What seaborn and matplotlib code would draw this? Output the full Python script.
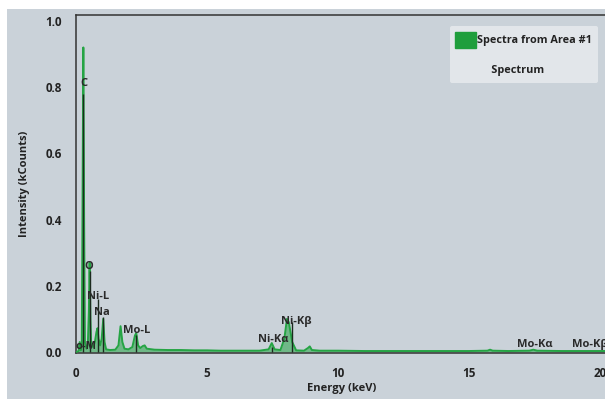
import numpy as np
import pandas as pd
import matplotlib
matplotlib.use("Agg")
import matplotlib.pyplot as plt
from matplotlib.patches import Patch, Rectangle
from matplotlib.lines import Line2D
import seaborn as sns

# ---- spectrum (keV, kCounts) ----
energy_kev = [
    0.00, 0.10, 0.14, 0.18, 0.22, 0.25, 0.28, 0.31, 0.34, 0.40,
    0.45, 0.49, 0.52, 0.55, 0.58, 0.65, 0.72, 0.78, 0.82, 0.86,
    0.92, 0.98, 1.04, 1.09, 1.15, 1.30, 1.50, 1.62, 1.70, 1.77,
    1.85, 2.00, 2.15, 2.25, 2.30, 2.37, 2.45, 2.55, 2.62, 2.70,
    3.00, 3.50, 4.00, 4.50, 5.00, 5.50, 6.00, 6.50, 7.00, 7.35,
    7.47, 7.58, 7.80, 7.95, 8.05, 8.12, 8.25, 8.40, 8.70, 8.85,
    8.92, 9.00, 9.30, 10.0, 11.0, 12.0, 13.0, 14.0, 15.0, 15.7,
    15.8, 15.9, 16.5, 17.3, 17.45, 17.6, 18.5, 19.5, 20.3,
]
intensity_kc = [
    0.000, 0.003, 0.030, 0.005, 0.020, 0.450, 0.920, 0.400, 0.030, 0.010,
    0.020, 0.120, 0.270, 0.100, 0.020, 0.015, 0.030, 0.060, 0.072, 0.040,
    0.020, 0.040, 0.100, 0.030, 0.008, 0.006, 0.007, 0.020, 0.078, 0.030,
    0.010, 0.008, 0.015, 0.050, 0.057, 0.020, 0.012, 0.018, 0.020, 0.010,
    0.007, 0.006, 0.006, 0.005, 0.005, 0.004, 0.004, 0.004, 0.004, 0.008,
    0.027, 0.008, 0.006, 0.040, 0.100, 0.090, 0.030, 0.005, 0.004, 0.012,
    0.017, 0.006, 0.004, 0.004, 0.003, 0.003, 0.003, 0.003, 0.003, 0.004,
    0.007, 0.004, 0.003, 0.004, 0.007, 0.004, 0.003, 0.003, 0.003,
]

# ---- element markers: name, line energy, marker height, label position ----
element_names = ["C", "O", "Ni-L", "Na", "Mo-L", "o-M", "Ni-K\u03b1", "Ni-K\u03b2", "Mo-K\u03b1", "Mo-K\u03b2"]
element_kev = [0.28, 0.52, 0.85, 1.04, 2.29, 0.19, 7.47, 8.26, 17.48, 19.60]
marker_top = [0.78, 0.245, 0.16, 0.105, 0.05, 0.0, 0.015, 0.09, 0.0, 0.0]
label_x = [0.30, 0.50, 0.84, 1.00, 2.33, 0.38, 7.52, 8.40, 17.52, 19.62]
label_y = [0.81, 0.257, 0.169, 0.118, 0.066, 0.018, 0.039, 0.091, 0.024, 0.024]

x_ticks = [0, 5, 10, 15, 20]
y_ticks = [0.0, 0.2, 0.4, 0.6, 0.8, 1.0]

spec = pd.DataFrame({"Energy (keV)": energy_kev, "Intensity (kCounts)": intensity_kc})

sns.set_theme(style="white")
plt.rcParams["font.family"] = ["Open Sans", "DejaVu Sans"]
plt.rcParams["font.weight"] = "bold"
plt.rcParams["axes.labelweight"] = "bold"

BG = "#cad2d9"
GREEN = "#25a444"
INK = "#222222"

W, H = 605, 399
fig = plt.figure(figsize=(W / 100, H / 100), dpi=100, facecolor="white")
# grey panel (white strip at top and left edge)
fig.patches.append(Rectangle((7 / W, 0), 1, 1 - 9 / H, transform=fig.transFigure,
                             facecolor=BG, edgecolor="none", zorder=-10))

ax = fig.add_axes([76 / W, (H - 353) / H, 532 / W, 338 / H])
ax.set_facecolor(BG)

# spectrum: filled area plus line
ax.fill_between(spec["Energy (keV)"], 0, spec["Intensity (kCounts)"],
                color=GREEN, alpha=0.55, linewidth=0, zorder=2)
sns.lineplot(data=spec, x="Energy (keV)", y="Intensity (kCounts)", ax=ax,
             color=GREEN, linewidth=1.4, zorder=3, estimator=None, sort=False)

# element marker lines + labels
for name, e, top, lx, ly in zip(element_names, element_kev, marker_top, label_x, label_y):
    if top > 0:
        ax.vlines(e, 0, top, color="#1c2a1e", linewidth=1.0, zorder=4)
    ax.text(lx, ly, name, ha="center", va="center", fontsize=8,
            fontweight="bold", color="#2a2a2a", zorder=5)

ax.set_xlim(0, 20.3)
ax.set_ylim(-0.003, 1.018)
ax.set_xticks(x_ticks)
ax.set_yticks(y_ticks)
ax.set_yticklabels([f"{v:.1f}" for v in y_ticks])
ax.tick_params(axis="both", direction="out", length=7, width=1.1, color="#333333",
               labelsize=8.4, labelcolor=INK, pad=3)
ax.set_xlabel("Energy (keV)", fontsize=8, color=INK, labelpad=2)
ax.set_ylabel("Intensity (kCounts)", fontsize=8, color=INK, labelpad=11)

for side in ["left", "top", "bottom", "right"]:
    ax.spines[side].set_color("#333333")
    ax.spines[side].set_linewidth(1.1)

handles = [Patch(facecolor="#1f9e3c", edgecolor="#1f9e3c"), Line2D([], [], alpha=0)]
leg = ax.legend(handles, ["Spectra from Area #1", "     Spectrum"],
                loc="upper right", bbox_to_anchor=(598 / W, 1 - 26 / H),
                bbox_transform=fig.transFigure, borderaxespad=0,
                prop={"size": 7.8, "weight": "bold"},
                handlelength=1.85, handleheight=1.85,
                handletextpad=0.15, labelspacing=1.3, borderpad=0.55,
                frameon=True, fancybox=True, facecolor="#e2e6ea",
                edgecolor="none", framealpha=1)
for t in leg.get_texts():
    t.set_color(INK)

plt.savefig("out.png", dpi=100, facecolor="white")
plt.close()
